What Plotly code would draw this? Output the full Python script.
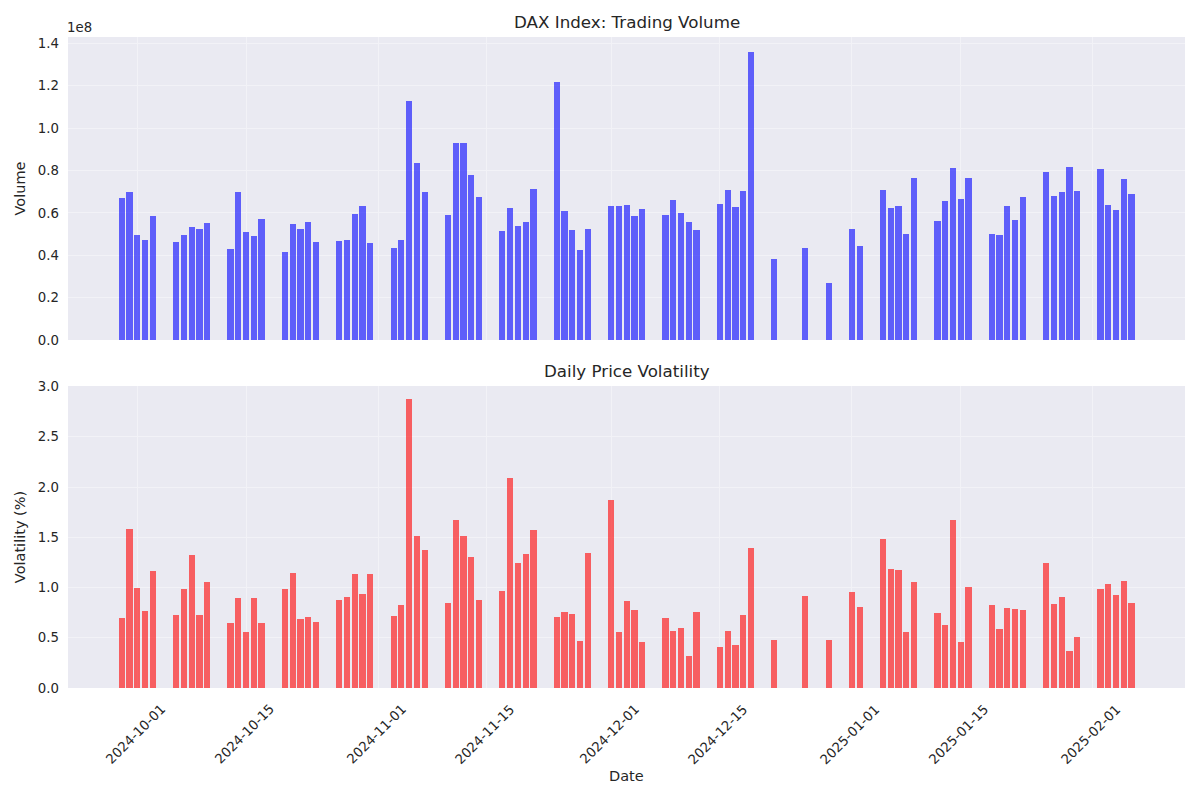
import pandas as pd
from plotly import graph_objects as go
from plotly.subplots import make_subplots

# Xetra trading days, Sep 30 2024 - Feb 7 2025 (holidays removed)
holidays = ['2024-12-24', '2024-12-25', '2024-12-26', '2024-12-31', '2025-01-01']
trade_days = pd.bdate_range('2024-09-30', '2025-02-07')
trade_days = trade_days[~trade_days.isin(pd.to_datetime(holidays))]
# the source index sits one day earlier (timezone shift), bars are drawn there
bar_dates = trade_days - pd.Timedelta(days=1)

# volume, millions of shares
volume_m = [
    66.9, 69.7, 49.4, 47.1, 58.4,
    46.1, 49.4, 53.2, 52.3, 55.1,
    42.8, 69.7, 50.8, 48.9, 57.0,
    41.4, 54.6, 52.3, 55.6, 46.1,
    46.6, 47.1, 59.3, 63.1, 45.6,
    43.3, 47.1, 112.7, 83.4, 69.7,
    58.9, 92.9, 92.9, 77.7, 67.4,
    51.3, 62.2, 53.7, 55.6, 71.1,
    121.7, 60.7, 51.8, 42.3, 52.3,
    63.1, 63.1, 63.6, 58.4, 61.7,
    58.9, 65.9, 59.8, 55.6, 51.8,
    64.1, 70.7, 62.6, 70.2, 135.8,
    38.1, 43.3, 26.8, 52.3, 44.2,
    70.7, 62.2, 63.1, 49.9, 76.3,
    56.0, 65.5, 81.1, 66.4, 76.3,
    49.9, 49.4, 63.1, 56.5, 67.4,
    79.2, 67.8, 69.7, 81.5, 70.2,
    80.6, 63.6, 61.2, 75.9, 68.8,
]

# daily price volatility, percent
volatility = [
    0.70, 1.58, 1.00, 0.77, 1.16,
    0.73, 0.99, 1.32, 0.73, 1.05,
    0.65, 0.90, 0.56, 0.90, 0.65,
    0.99, 1.14, 0.69, 0.71, 0.66,
    0.88, 0.91, 1.13, 0.94, 1.13,
    0.72, 0.83, 2.88, 1.51, 1.37,
    0.85, 1.67, 1.51, 1.30, 0.88,
    0.97, 2.09, 1.24, 1.33, 1.57,
    0.71, 0.76, 0.74, 0.47, 1.34,
    1.87, 0.56, 0.87, 0.78, 0.46,
    0.70, 0.57, 0.60, 0.32, 0.76,
    0.41, 0.57, 0.43, 0.73, 1.39,
    0.48, 0.92, 0.48, 0.96, 0.81,
    1.48, 1.18, 1.17, 0.56, 1.05,
    0.75, 0.63, 1.67, 0.46, 1.01,
    0.83, 0.59, 0.80, 0.79, 0.78,
    1.24, 0.84, 0.91, 0.37, 0.51,
    0.99, 1.03, 0.93, 1.06, 0.85,
]

date_ticks = ['2024-10-01', '2024-10-15', '2024-11-01', '2024-11-15', '2024-12-01',
              '2024-12-15', '2025-01-01', '2025-01-15', '2025-02-01']
vol_ticks = [0.0, 0.2, 0.4, 0.6, 0.8, 1.0, 1.2, 1.4]
volat_ticks = [0.0, 0.5, 1.0, 1.5, 2.0, 2.5, 3.0]

TEXT = '#262626'
FONT = 'DejaVu Sans'
BG = '#EAEAF2'
GRID = '#F2F2F7'

fig = make_subplots(rows=2, cols=1, shared_xaxes=True, vertical_spacing=0.07)

bar_width = 0.8 * 86400000
fig.add_trace(go.Bar(
    x=bar_dates, y=[v * 1e6 for v in volume_m],
    width=bar_width, marker=dict(color='rgba(0,0,255,0.6)', line=dict(width=0)),
    name='Volume'
), row=1, col=1)
fig.add_trace(go.Bar(
    x=bar_dates, y=volatility,
    width=bar_width, marker=dict(color='rgba(255,0,0,0.6)', line=dict(width=0)),
    name='Volatility'
), row=2, col=1)

x_range = ['2024-09-22 02:00', '2025-02-12 21:00']
xaxis_style = dict(
    type='date', range=x_range, tickvals=date_ticks, showticklabels=False,
    showgrid=True, gridcolor=GRID, gridwidth=1, zeroline=False, showline=False, ticks='',
)
fig.update_xaxes(**xaxis_style, row=1, col=1)
fig.update_xaxes(**xaxis_style, row=2, col=1)

fig.update_yaxes(
    range=[0, 1.4306e8], tickvals=[t * 1e8 for t in vol_ticks],
    ticktext=[f'{t:.1f}' for t in vol_ticks],
    title=dict(text='Volume', font=dict(size=14.5, color=TEXT), standoff=8),
    row=1, col=1
)
fig.update_yaxes(
    range=[0, 3.005], tickvals=volat_ticks, ticktext=[f'{t:.1f}' for t in volat_ticks],
    title=dict(text='Volatility (%)', font=dict(size=14.5, color=TEXT), standoff=8),
    row=2, col=1
)
fig.update_yaxes(showgrid=True, gridcolor=GRID, gridwidth=1, zeroline=False,
                 showline=False, ticks='', ticklabelstandoff=8,
                 tickfont=dict(size=13.3, color=TEXT))

# page body keeps an 8px margin, so the figure is 8px smaller each way
fig.update_layout(
    width=1192, height=792,
    margin=dict(l=60, r=15, t=29, b=112),
    paper_bgcolor='white', plot_bgcolor=BG,
    font=dict(family=FONT, color=TEXT),
    showlegend=False, bargap=0,
)
fig.update_layout(
    yaxis=dict(domain=[0.5346, 1.0]),
    yaxis2=dict(domain=[0.0, 0.4639]),
)

annotations = [
    dict(text='DAX Index: Trading Volume', xref='paper', yref='y domain', x=0.5, y=1,
         xanchor='center', yanchor='bottom', yshift=3, showarrow=False,
         font=dict(size=16.7, color=TEXT)),
    dict(text='Daily Price Volatility', xref='paper', yref='y2 domain', x=0.5, y=1,
         xanchor='center', yanchor='bottom', yshift=3, showarrow=False,
         font=dict(size=16.7, color=TEXT)),
    dict(text='1e8', xref='paper', yref='y domain', x=0, y=1,
         xanchor='left', yanchor='bottom', xshift=-3, yshift=0, showarrow=False,
         font=dict(size=13.3, color=TEXT)),
    dict(text='Date', xref='paper', yref='paper', x=0.5, y=0,
         xanchor='center', yanchor='middle', yshift=-88, showarrow=False,
         font=dict(size=14.5, color=TEXT)),
]
for d in date_ticks:
    annotations.append(dict(
        text=d, xref='x2', yref='y2 domain', x=d, y=0,
        xanchor='center', yanchor='top', yshift=-11, xshift=-2, textangle=-45,
        showarrow=False, font=dict(size=13.3, color=TEXT)
    ))
fig.update_layout(annotations=annotations)

fig.write_html('out.html')
